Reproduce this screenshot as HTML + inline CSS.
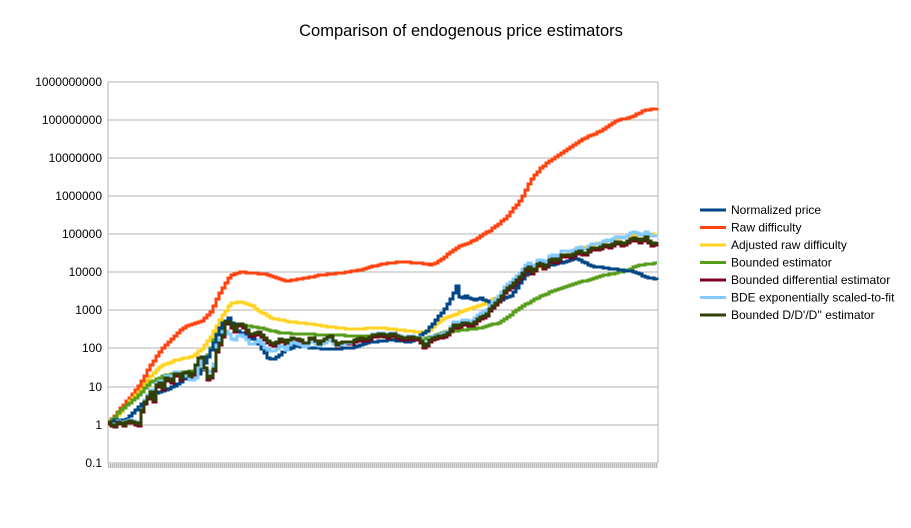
<!DOCTYPE html>
<html><head><meta charset="utf-8"><style>
body{margin:0;background:#fff;}
svg{display:block;font-family:"Liberation Sans",sans-serif;}
</style></head><body>
<svg width="911" height="528" viewBox="0 0 911 528">
<defs><pattern id="tk" x="108" y="0" width="2" height="5" patternUnits="userSpaceOnUse"><rect width="1" height="5" fill="#b8b8b8"/><rect x="1" width="1" height="5" fill="#e0e0e0"/></pattern></defs>
<rect width="911" height="528" fill="#fff"/>
<text x="461" y="36" font-size="16.5" text-anchor="middle" fill="#000">Comparison of endogenous price estimators</text>
<g stroke="#b3b3b3" stroke-width="1">
<line x1="108" y1="82" x2="658" y2="82"/><line x1="108" y1="120" x2="658" y2="120"/>
<line x1="108" y1="158" x2="658" y2="158"/><line x1="108" y1="196" x2="658" y2="196"/>
<line x1="108" y1="234" x2="658" y2="234"/><line x1="108" y1="272" x2="658" y2="272"/>
<line x1="108" y1="310" x2="658" y2="310"/><line x1="108" y1="348" x2="658" y2="348"/>
<line x1="108" y1="387" x2="658" y2="387"/><line x1="108" y1="425" x2="658" y2="425"/>
<line x1="108" y1="463" x2="658" y2="463"/>
<line x1="108" y1="82" x2="108" y2="463"/><line x1="658" y1="82" x2="658" y2="463"/>
</g>
<rect x="108" y="463" width="550" height="5" fill="url(#tk)"/>
<g font-size="12" text-anchor="end" fill="#000">
<text x="102" y="86">1000000000</text><text x="102" y="124">100000000</text>
<text x="102" y="162">10000000</text><text x="102" y="200">1000000</text>
<text x="102" y="238">100000</text><text x="102" y="276">10000</text>
<text x="102" y="314">1000</text><text x="102" y="352">100</text>
<text x="102" y="391">10</text><text x="102" y="429">1</text>
<text x="102" y="467">0.1</text>
</g>
<g fill="none" stroke-width="3" stroke-linejoin="miter" id="series">
<polyline stroke="#ff420e" points="108,423 120,408 130,397 140,383 150,365 160,350 170,340 180,330 190,324 200,322 210,312 218,295 225,283 230,275 240,272 250,273 265,274 275,278 285,281 300,279 320,275 340,273 360,270 380,264 400,262 420,263 430,265 440,260 455,248 470,242 490,230 505,218 520,200 530,180 540,168 550,160 565,150 580,140 600,131 615,121 630,117 645,110 658,108"/>
<polyline stroke="#ffd320" points="108,423 120,412 130,400 140,390 150,376 160,366 175,360 190,357 200,350 210,337 220,318 230,303 240,302 250,305 260,312 270,318 290,322 310,324 330,327 350,329 380,328 410,331 425,333 440,320 460,312 480,305 500,295 520,280 535,268 550,260 570,253 590,245 610,240 630,236 645,234 658,235"/>
<polyline stroke="#579d1c" points="108,423 120,410 135,398 150,382 165,375 180,373 195,370 205,360 215,335 225,322 240,325 260,328 280,333 300,334 330,335 360,336 390,337 420,340 440,333 460,330 480,328 500,322 520,307 540,296 560,288 580,282 600,276 620,272 640,265 658,263"/>
<polyline stroke="#004586" points="108,423 115,420 125,420 135,410 145,400 155,393 165,390 175,385 185,378 195,378 200,372 210,350 220,325 228,318 235,330 245,335 255,340 262,350 268,360 275,358 285,350 295,346 310,348 330,349 350,348 370,342 390,340 410,342 425,332 435,320 445,308 452,295 456,286 460,300 465,296 472,300 480,298 490,303 500,300 510,296 520,282 530,268 540,260 550,265 560,263 575,258 590,266 605,268 620,270 635,272 645,277 658,280"/>
<polyline stroke="#7e0021" points="108,424 113,428 118,422 123,426 128,421 133,424 138,426 142,407 146,400 150,394 153,402 157,382 162,390 166,377 170,385 175,374 180,380 185,372 190,380 195,367 200,355 203,367 207,380 212,377 216,352 222,337 226,320 230,327 234,332 238,324 244,329 250,337 258,334 266,342 272,347 280,340 285,345 290,340 300,342 305,347 310,338 318,346 325,340 330,338 335,347 342,344 350,344 358,340 366,341 372,337 380,336 386,338 392,335 400,340 410,339 418,340 424,349 430,340 440,338 448,335 452,327 458,328 463,324 470,327 478,320 485,317 490,310 498,302 505,292 512,286 520,278 527,268 532,275 538,264 544,270 550,260 556,264 562,256 570,258 578,252 584,256 590,250 598,250 604,246 610,248 616,243 622,246 628,242 634,240 640,244 644,238 650,246 658,244"/>
<polyline stroke="#83caff" points="108,422 113,426 118,420 123,424 128,419 133,422 138,423 142,404 146,396 150,390 153,398 157,378 162,386 166,372 170,380 175,370 180,375 185,374 190,382 195,378 200,358 203,368 207,372 212,370 216,345 222,332 226,330 230,338 234,340 238,334 244,337 250,345 258,340 266,350 272,352 280,345 285,350 290,342 300,345 305,348 310,340 318,346 325,342 330,340 335,346 342,344 350,342 358,338 366,339 372,334 380,333 386,335 392,332 400,337 410,336 418,337 424,346 430,337 440,334 448,331 452,322 458,323 463,319 470,322 478,314 485,311 490,304 498,296 505,286 512,280 520,272 527,262 532,268 538,258 544,264 550,254 556,258 562,250 570,252 578,246 584,250 590,244 598,244 604,240 610,241 616,236 622,238 628,234 634,232 640,236 644,231 650,236 658,236"/>
<polyline stroke="#314004" points="108,422 113,427 118,421 123,425 128,420 133,423 138,424 142,405 146,398 150,392 153,400 157,380 162,388 166,375 170,383 175,372 180,378 185,370 190,378 195,365 200,353 203,365 207,378 212,375 216,350 222,335 226,318 230,325 234,330 238,322 244,327 250,335 258,332 266,340 272,345 280,338 285,343 290,338 300,340 305,345 310,336 318,344 325,338 330,336 335,345 342,342 350,342 358,338 366,339 372,335 380,334 386,336 392,333 400,338 410,337 418,338 424,347 430,338 440,336 448,333 452,325 458,326 463,322 470,325 478,318 485,315 490,308 498,300 505,290 512,284 520,276 527,266 532,273 538,262 544,268 550,258 556,262 562,254 570,256 578,250 584,254 590,248 598,248 604,244 610,246 616,241 622,244 628,240 634,238 640,242 644,236 650,244 658,242"/>
</g>
<g stroke-width="3">
<line x1="700" y1="210" x2="726" y2="210" stroke="#004586"/>
<line x1="700" y1="227.5" x2="726" y2="227.5" stroke="#ff420e"/>
<line x1="700" y1="245" x2="726" y2="245" stroke="#ffd320"/>
<line x1="700" y1="262.5" x2="726" y2="262.5" stroke="#579d1c"/>
<line x1="700" y1="280" x2="726" y2="280" stroke="#7e0021"/>
<line x1="700" y1="297.5" x2="726" y2="297.5" stroke="#83caff"/>
<line x1="700" y1="315" x2="726" y2="315" stroke="#314004"/>
</g>
<g font-size="12" fill="#000">
<text x="731" y="214">Normalized price</text>
<text x="731" y="231.5">Raw difficulty</text>
<text x="731" y="249">Adjusted raw difficulty</text>
<text x="731" y="266.5">Bounded estimator</text>
<text x="731" y="284">Bounded differential estimator</text>
<text x="731" y="301.5">BDE exponentially scaled-to-fit</text>
<text x="731" y="319">Bounded D/D'/D'' estimator</text>
</g>
</svg>
<script>
document.querySelectorAll('#series polyline').forEach(function(pl){
  var p=pl.getAttribute('points').trim().split(/\s+/).map(function(s){return s.split(',').map(Number);});
  var out=[],step=3;
  for(var x=108;x<=658;x+=step){
    var i=0;while(i<p.length-2&&p[i+1][0]<x)i++;
    var a=p[i],b=p[i+1],t=(x-a[0])/(b[0]-a[0]);t=Math.max(0,Math.min(1,t));
    var y=Math.round(a[1]+(b[1]-a[1])*t);
    if(out.length){out.push(x+','+out[out.length-1].split(',')[1]);}
    out.push(x+','+y);
  }
  pl.setAttribute('points',out.join(' '));
});
</script>
</body></html>
